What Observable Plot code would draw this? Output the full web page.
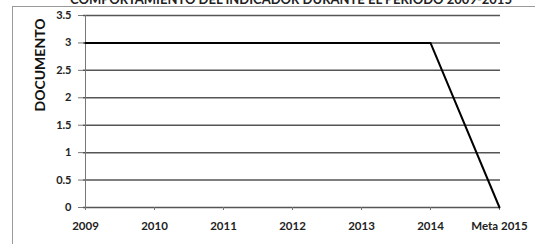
<!DOCTYPE html>
<html><head><meta charset="utf-8">
<script src="https://cdn.jsdelivr.net/npm/d3@7"></script>
<script src="https://cdn.jsdelivr.net/npm/@observablehq/plot@0.6"></script>
<style>
body{margin:0;background:#fff;overflow:hidden;}
#wrap{position:relative;width:535px;height:244px;overflow:hidden;font-family:Lato,"Open Sans",sans-serif;}
#frame{position:absolute;left:12px;top:6px;width:540px;height:260px;border:1px solid #999;}
#title{position:absolute;left:0;width:582px;top:-9px;text-align:center;font-weight:bold;font-size:13px;color:#222;white-space:nowrap;}
#chart{position:absolute;left:0;top:0;}
</style></head>
<body>
<div id="wrap">
  <div id="frame"></div>
  <div id="title">COMPORTAMIENTO DEL INDICADOR DURANTE EL PERIODO 2009-2015</div>
  <div id="chart"></div>
</div>
<script>
const years = ["2009","2010","2011","2012","2013","2014","Meta 2015"];
const values = [3,3,3,3,3,3,0];
const yTicks = [0,0.5,1,1.5,2,2.5,3,3.5];
const yLabel = "DOCUMENTO";

const data = years.map((y,i)=>({year:y, value:values[i]}));

const chart = Plot.plot({
  width:535, height:244,
  marginLeft:83, marginRight:35, marginTop:15, marginBottom:37,
  style:{fontFamily:'Lato,"Open Sans",sans-serif', fontSize:"11px", fontWeight:"bold", background:"transparent", color:"#222"},
  x:{type:"point", domain:years, padding:0, label:null},
  y:{domain:[0,3.5], label:null},
  marks:[
    Plot.gridY(yTicks,{stroke:"#555", strokeOpacity:1, strokeWidth:1.5}),
    Plot.ruleX([years[0]],{stroke:"#777", strokeWidth:1}),
    Plot.axisY(yTicks,{tickSize:5, tickPadding:7, tickFormat:d=>String(d), fontSize:11, stroke:"#777"}),
    Plot.axisX(years,{tickSize:3, tickPadding:11, fontSize:11.5, stroke:"#777"}),
    Plot.line(data,{x:"year", y:"value", stroke:"black", strokeWidth:2}),
    Plot.text([yLabel],{frameAnchor:"left", dx:-43, rotate:-90, fontSize:14, fontWeight:"bold", fill:"#111"})
  ]
});
document.getElementById("chart").appendChild(chart);
</script>
</body></html>
